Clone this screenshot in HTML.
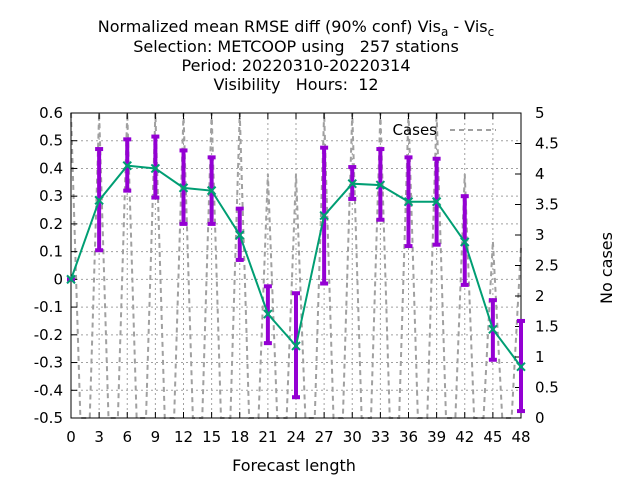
<!DOCTYPE html>
<html><head><meta charset="utf-8"><style>
body{margin:0;background:#fff;}
svg{display:block;font-family:"DejaVu Sans","Liberation Sans",sans-serif;}
text{white-space:pre;}
</style></head><body>
<svg id="c" width="640" height="480">
<g font-size="16" text-anchor="middle" fill="#000">
<text x="296" y="32" xml:space="preserve">Normalized mean RMSE diff (90% conf) Vis<tspan font-size="12" dy="4">a</tspan><tspan dy="-4"> - Vis</tspan><tspan font-size="12" dy="4">c</tspan></text>
<text x="296" y="52" xml:space="preserve">Selection: METCOOP using   257 stations</text>
<text x="296" y="71">Period: 20220310-20220314</text>
<text x="296" y="90" xml:space="preserve">Visibility   Hours:  12</text>
</g>
<text x="294" y="471" font-size="16" text-anchor="middle">Forecast length</text>
<text transform="translate(612,268) rotate(-90)" font-size="16" text-anchor="middle">No cases</text>
<g id="grid"></g><g id="cases"></g><g id="axes"></g><g id="err"></g><g id="line"></g>
<g>
<text x="437" y="135" font-size="15" text-anchor="end">Cases</text>
<line x1="450" y1="130" x2="496" y2="130" stroke="#a0a0a0" stroke-width="2" stroke-dasharray="5,4"/>
</g>
</svg>
<script>
const hours=[0,3,6,9,12,15,18,21,24,27,30,33,36,39,42,45,48];
const values=[0,0.285,0.41,0.40,0.33,0.32,0.16,-0.125,-0.24,0.23,0.345,0.34,0.28,0.28,0.135,-0.18,-0.315];
const lows=[0,0.105,0.32,0.295,0.2,0.2,0.07,-0.23,-0.425,-0.015,0.29,0.215,0.12,0.125,-0.02,-0.29,-0.475];
const highs=[0,0.47,0.505,0.515,0.465,0.44,0.255,-0.025,-0.05,0.475,0.405,0.47,0.44,0.435,0.3,-0.075,-0.15];
const cases=[5,5,5,5,5,5,5,4,4,5,5,5,5,5,4,2.9,2.8];
const yTicks=[-0.5,-0.4,-0.3,-0.2,-0.1,0,0.1,0.2,0.3,0.4,0.5,0.6];
const y2Ticks=[0,0.5,1,1.5,2,2.5,3,3.5,4,4.5,5];
const L=71,R=521,T=113,B=418;
const X=h=>L+(h-0)/48*(R-L);
const Y=v=>B-(v+0.5)/1.1*(B-T);
const Y2=v=>B-v/5*(B-T);
const NS="http://www.w3.org/2000/svg";
function mk(p,t,a){const e=document.createElementNS(NS,t);for(const k in a)e.setAttribute(k,a[k]);p.appendChild(e);return e;}
const grid=document.getElementById('grid'),axes=document.getElementById('axes');
yTicks.forEach(v=>{const y=Y(v);
 if(v>-0.5&&v<0.6){const g=mk(grid,'line',{x1:L,x2:R,y1:y,y2:y,stroke:'#a0a0a0','stroke-dasharray':'2,3'});}
 mk(axes,'line',{x1:L,x2:L+6,y1:y,y2:y,stroke:'#000'});
 const t=mk(axes,'text',{x:L-8,y:y+5,'font-size':15,'text-anchor':'end'});t.textContent=(Math.round(v*10)/10).toString();
 });
y2Ticks.forEach(v=>{const y=Y2(v);
 mk(axes,'line',{x1:R-6,x2:R,y1:y,y2:y,stroke:'#000'});
 const t=mk(axes,'text',{x:R+14,y:y+5,'font-size':15});t.textContent=v.toString();
 });
hours.forEach(h=>{const x=X(h);
 if(h>0&&h<48){const g=mk(grid,'line',{x1:x,x2:x,y1:T,y2:B,stroke:'#a0a0a0','stroke-dasharray':'2,3'});}
 mk(axes,'line',{x1:x,x2:x,y1:B,y2:B-6,stroke:'#000'});mk(axes,'line',{x1:x,x2:x,y1:T,y2:T+6,stroke:'#000'});
 const t=mk(axes,'text',{x:x,y:B+24,'font-size':15,'text-anchor':'middle'});t.textContent=h;
 });
const fr=mk(axes,'rect',{x:L,y:T,width:R-L,height:B-T,fill:'none',stroke:'#000'});

let pts=[];
hours.forEach((h,i)=>{if(i>0)pts.push([X(h-1),Y2(0)]);pts.push([X(h),Math.max(T,Y2(cases[i]))]);if(i<hours.length-1)pts.push([X(h+1),Y2(0)]);});
const cl=mk(document.getElementById('cases'),'polyline',{points:pts.map(p=>p.join(',')).join(' '),fill:'none',stroke:'#a0a0a0','stroke-width':2,'stroke-dasharray':'5,4'});

const eg=document.getElementById('err');
hours.forEach((h,i)=>{const x=X(h);const g=mk(eg,'g',{stroke:'#9400d3','stroke-width':4});
 
 mk(g,'line',{x1:x,x2:x,y1:Y(lows[i]),y2:Y(highs[i])});
 mk(g,'line',{x1:x-4,x2:x+4,y1:Y(lows[i]),y2:Y(lows[i])});
 mk(g,'line',{x1:x-4,x2:x+4,y1:Y(highs[i]),y2:Y(highs[i])});});
const lg=document.getElementById('line');
const ml=mk(lg,'polyline',{points:hours.map((h,i)=>X(h)+','+Y(values[i])).join(' '),fill:'none',stroke:'#009e73','stroke-width':2});

hours.forEach((h,i)=>{const x=X(h),y=Y(values[i]);const g=mk(lg,'g',{stroke:'#009e73','stroke-width':2});
 
 mk(g,'line',{x1:x-4,x2:x+4,y1:y-4,y2:y+4});mk(g,'line',{x1:x-4,x2:x+4,y1:y+4,y2:y-4});});
</script>
</body></html>
